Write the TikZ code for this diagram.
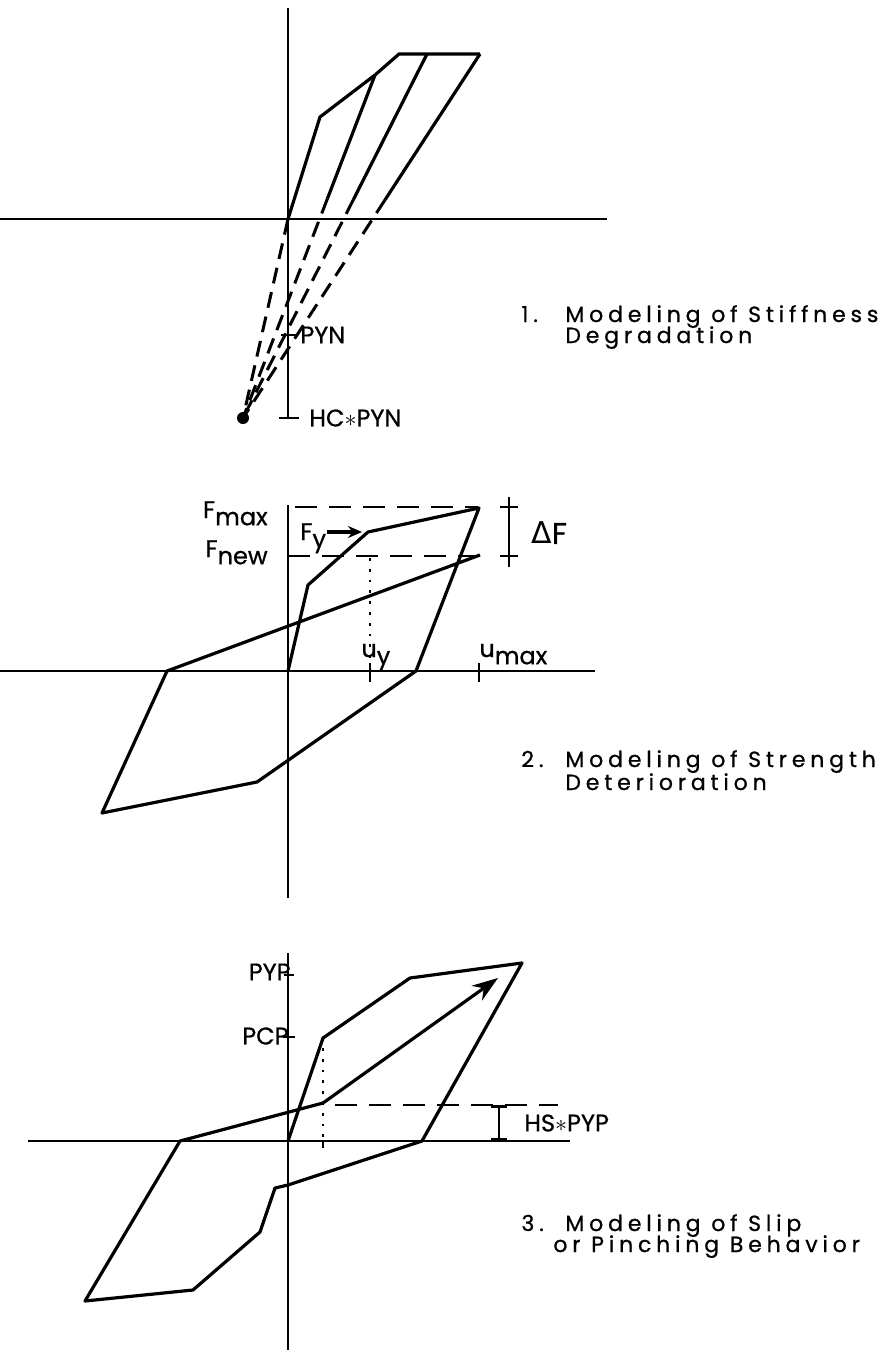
\documentclass[tikz,border=0pt]{standalone}
\usepackage{fontspec}
\setmainfont{Poppins}[FakeBold=0.8]
\newfontfamily\capfont{Poppins}[LetterSpace=22,FakeBold=0.8]
\newfontfamily\greekfont{DejaVu Sans}
\usepackage{tikz}
\usetikzlibrary{arrows.meta,positioning,calc}
\newcommand{\subtxt}[1]{\raisebox{-0.3em}{#1}}

\begin{document}
\begin{tikzpicture}[x=0.5pt,y=-0.5pt,
  axis/.style={line width=1.4pt},
  curve/.style={line width=1.6pt,line join=round},
  dsh/.style={line width=1.5pt,dash pattern=on 8pt off 4.5pt},
  dshb/.style={line width=1.4pt,dash pattern=on 11pt off 6pt},
  dotl/.style={line width=1.3pt,dash pattern=on 1.4pt off 4pt},
  lbl/.style={inner sep=0pt,font=\fontsize{12}{12}\selectfont},
  captxt/.style={inner sep=0pt,anchor=base west,font=\capfont\fontsize{11}{11}\selectfont}
]
\useasboundingbox (0,0) rectangle (883,1359);

% stiffness degradation
\coordinate (o1) at (288,219);
\coordinate (a1) at (320,117);
\coordinate (b1) at (375,75);
\coordinate (c1) at (399,54);
\coordinate (d1) at (427,54);
\coordinate (e1) at (480,54);
\coordinate (hc) at (243,418);
\draw[axis] (288,8) -- (288,418);
\draw[axis] (0,219) -- (607,219);
\draw[curve] (o1) -- (a1) -- (b1) -- (c1) -- (e1);
\foreach \p/\t in {b1/0.36,d1/0.40,e1/0.40}{
  \draw[curve] (\p) -- ($(\p)!\t!(hc)$);
  \draw[dsh] ($(\p)!\t!(hc)$) -- (hc);
}
\draw[dsh] (o1) -- (hc);
\fill (hc) circle (6);
\draw[axis] (281,335) -- (297,335);
\node[lbl,anchor=west] (pyn) at (300,335) {PYN};
\draw[axis] (279,418) -- (299,418);
\node[lbl,anchor=west] (hcpyn) at (309,418) {HC$\ast$PYN};
\node[captxt] (num1) at (521,322) {1.};
\node[captxt] (txt1) at (565,322) {Modeling of Stiffness};
\node[captxt] (txt1b) at (565,343) {Degradation};

% strength deterioration
\coordinate (o2) at (288,671);
\coordinate (a2) at (308,585);
\coordinate (y2) at (368,532);
\coordinate (m2) at (479,508);
\coordinate (r2) at (416,671);
\coordinate (l2) at (257,782);
\coordinate (n2) at (102,813);
\coordinate (k2) at (167,671);
\coordinate (e2) at (480,555);
\draw[axis] (288,505) -- (288,898);
\draw[axis] (0,671) -- (595,671);
\draw[curve] (o2) -- (a2) -- (y2) -- (m2) -- (r2) -- (l2) -- (n2) -- (k2) -- (e2);
\draw[dshb] (295,507) -- (478,507);
\draw[dshb] (288,556) -- (480,556);
\draw[dotl] (370,558) -- (370,671);
\draw[axis] (370,663) -- (370,682);
\draw[axis] (479,663) -- (479,682);
\draw[axis] (509,497) -- (509,567);
\draw[axis] (500,507) -- (518,507);
\draw[axis] (500,556) -- (518,556);
\node[lbl,anchor=base east] (fmax) at (268,518) {F\subtxt{max}};
\node[lbl,anchor=base east] (fnew) at (268,557) {F\subtxt{new}};
\node[lbl,anchor=base west] (fy) at (300,540) {F\subtxt{y}};
\coordinate (fyend) at (362,532);
\draw[curve,-{Stealth[length=7pt,width=6pt]}] (327,532) -- (fyend);
\node[lbl,anchor=base west] (uy) at (361,657) {u\subtxt{y}};
\node[lbl,anchor=base west] (umax) at (479,657) {u\subtxt{max}};
\node[lbl,anchor=west,font=\fontsize{15}{15}\selectfont] (df) at (531,533) {{\greekfont Δ}F};
\node[captxt] (num2) at (521,767) {2.};
\node[captxt] (txt2) at (565,767) {Modeling of Strength};
\node[captxt] (txt2b) at (565,790) {Deterioration};

% slip or pinching
\coordinate (o3) at (288,1141);
\coordinate (a3) at (323,1038);
\coordinate (b3) at (410,978);
\coordinate (t3) at (522,963);
\coordinate (r3) at (422,1141);
\coordinate (s3) at (288,1185);
\coordinate (q3) at (275,1188);
\coordinate (p3) at (260,1232);
\coordinate (u3) at (193,1290);
\coordinate (n3) at (85,1301);
\coordinate (k3) at (180,1141);
\coordinate (h3) at (323,1103);
\coordinate (w3) at (498,978);
\draw[axis] (288,953) -- (288,1350);
\draw[axis] (28,1141) -- (570,1141);
\draw[curve] (o3) -- (a3) -- (b3) -- (t3) -- (r3) -- (s3) -- (q3) -- (p3) -- (u3) -- (n3) -- (k3) -- (h3);
\draw[curve,-{Stealth[length=13pt,width=9pt]}] (h3) -- (w3);
\draw[axis] (284,975) -- (294,975);
\draw[axis] (283,1037) -- (295,1037);
\node[lbl,anchor=east] (pyp) at (291,972) {PYP};
\node[lbl,anchor=east] (pcp) at (289,1036) {PCP};
\draw[dotl] (323,1048) -- (323,1141);
\draw[axis] (323,1141) -- (323,1148);
\draw[dshb] (335,1105) -- (558,1105);
\draw[axis,{Bar[width=8pt]}-{Bar[width=8pt]}] (499,1105) -- (499,1141);
\node[lbl,anchor=west] (hspyp) at (524,1123) {HS$\ast$PYP};
\node[captxt] (num3) at (521,1231) {3.};
\node[captxt] (txt3) at (565,1231) {Modeling of Slip};
\node[captxt] (txt3b) at (553,1252) {or Pinching Behavior};
\end{tikzpicture}
\end{document}
